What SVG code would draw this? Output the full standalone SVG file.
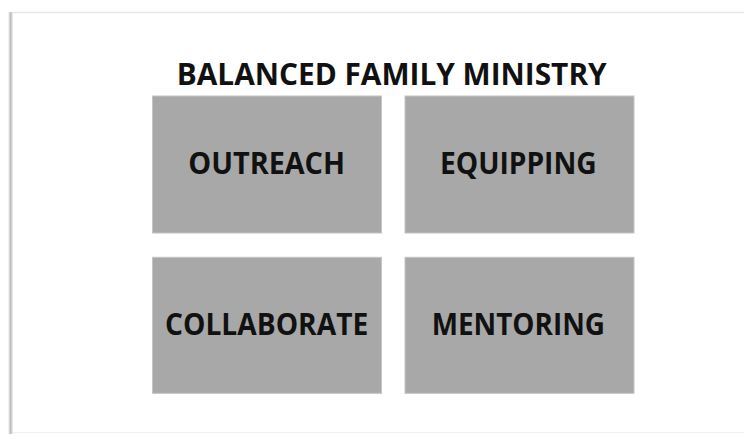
<svg xmlns="http://www.w3.org/2000/svg" width="744" height="434" viewBox="0 0 744 434">
  <defs>
    <style>
      .box { fill: #A8A8A8; stroke: #C4C4C4; stroke-width: 1; }
      .lbl { font-family: "Open Sans", "Liberation Sans", sans-serif; font-weight: 700; font-size: 30px; fill: #111111; }
    </style>
    <linearGradient id="edge" x1="0" y1="0" x2="1" y2="0">
      <stop offset="0" stop-color="#ffffff"/>
      <stop offset="0.5" stop-color="#bdbdbd"/>
      <stop offset="1" stop-color="#f0f0f0"/>
    </linearGradient>
  </defs>
  <rect x="0" y="0" width="744" height="434" fill="#ffffff"/>
  <g id="slide">
    <rect x="11" y="12" width="740" height="430" fill="#ffffff"/>
    <line x1="11" y1="12.5" x2="744" y2="12.5" stroke="#e6e6e6" stroke-width="1.5"/>
    <rect x="8" y="12" width="5" height="422" fill="url(#edge)"/>
    <line x1="13" y1="432.5" x2="744" y2="432.5" stroke="#f0f0f0" stroke-width="1"/>
  </g>
  <g id="title">
    <text class="lbl" x="176.7" y="85" textLength="430" lengthAdjust="spacingAndGlyphs">BALANCED FAMILY MINISTRY</text>
  </g>
  <g id="outreach">
    <rect class="box" x="152.5" y="96" width="229" height="137"/>
    <text class="lbl" x="188.3" y="174" textLength="156.7" lengthAdjust="spacingAndGlyphs">OUTREACH</text>
  </g>
  <g id="equipping">
    <rect class="box" x="405" y="96" width="229" height="137"/>
    <text class="lbl" x="440" y="174" textLength="156.7" lengthAdjust="spacingAndGlyphs">EQUIPPING</text>
  </g>
  <g id="collaborate">
    <rect class="box" x="152.5" y="257.3" width="229" height="136"/>
    <text class="lbl" x="165" y="335" textLength="203.3" lengthAdjust="spacingAndGlyphs">COLLABORATE</text>
  </g>
  <g id="mentoring">
    <rect class="box" x="405" y="257.3" width="229" height="136"/>
    <text class="lbl" x="431.7" y="335" textLength="173.3" lengthAdjust="spacingAndGlyphs">MENTORING</text>
  </g>
  <g id="connectors"/>
</svg>
